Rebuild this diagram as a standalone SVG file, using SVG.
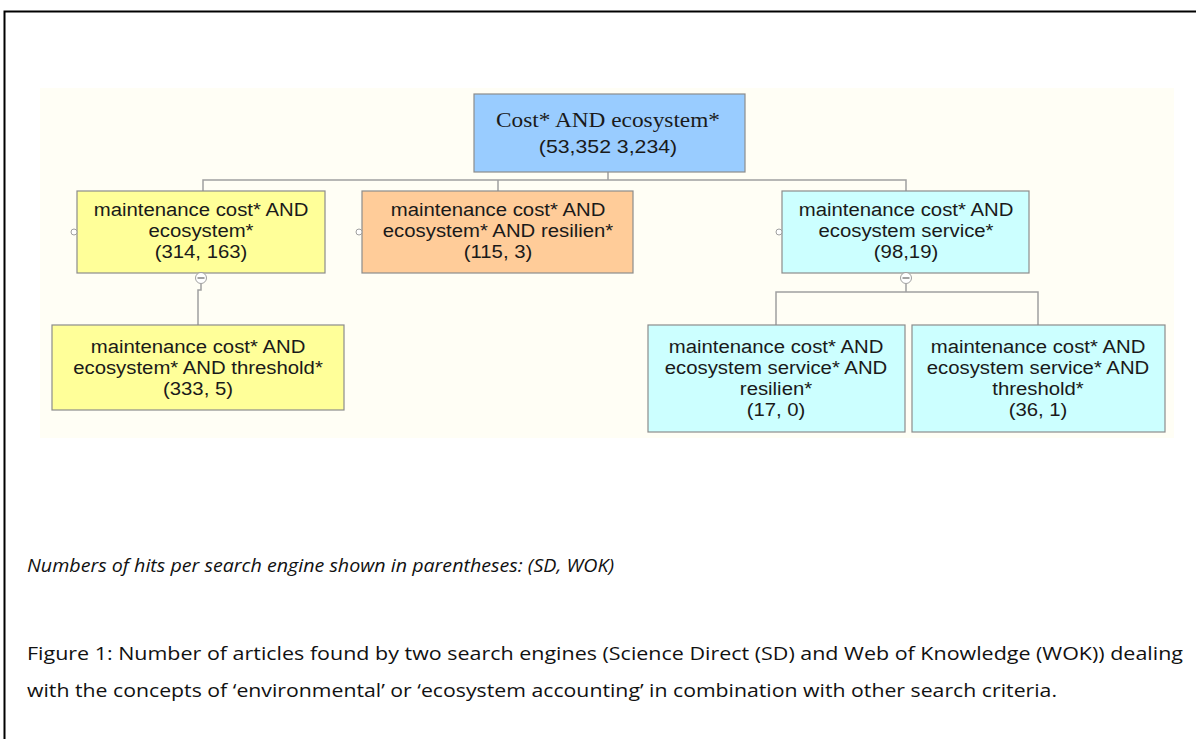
<svg xmlns="http://www.w3.org/2000/svg" width="1196" height="739" viewBox="0 0 1196 739">
<style>
.box{stroke:#8c8c8c;stroke-width:1.2}
.root{fill:#99ccff}
.yel{fill:#ffff99}
.org{fill:#ffcc99}
.cya{fill:#ccffff}
.nt{font-family:"Liberation Sans",Arial,sans-serif;font-size:18px;fill:#1a1a1a;text-anchor:middle}
.rt{font-family:"Liberation Serif","Times New Roman",serif;font-size:22px;fill:#1a1a1a;text-anchor:middle}
.conn{fill:none;stroke:#a0a0a0;stroke-width:1.5}
.port{fill:#ffffff;stroke:#a0a0a0;stroke-width:1}
.cap{font-family:"Open Sans","Noto Sans",sans-serif;font-size:19px;fill:#111}
</style>
<rect x="0" y="0" width="1196" height="739" fill="#ffffff"/>
<path d="M4.5,739 V11.5 H1196" fill="none" stroke="#000" stroke-width="2"/>
<rect x="40" y="88" width="1134" height="350" fill="#fffef5"/>

<g id="connectors">
<path class="conn" d="M608,172 V180 M203,191 V180 H906 V191 M498,180 V191"/>
<path class="conn" d="M201,284 V290 H198 V325"/>
<path class="conn" d="M906,284 V292 M776,325 V292 H1038 V325"/>
</g>

<g id="root">
<rect class="box root" x="474" y="94" width="271" height="78"/>
<g transform="translate(608,0) scale(1.06,1)"><text class="rt" x="0" y="127">Cost* AND ecosystem*</text></g>
<g transform="translate(608,0) scale(1.12,1)"><text class="nt" style="font-size:19px" x="0" y="153">(53,352 3,234)</text></g>
</g>

<g id="n1">
<rect class="box yel" x="77" y="191" width="248" height="82"/>
<circle class="port" cx="74" cy="232" r="3"/>
<g transform="translate(201,0) scale(1.13,1)">
<text class="nt" x="0" y="216">maintenance cost* AND</text>
<text class="nt" x="0" y="237">ecosystem*</text>
<text class="nt" x="0" y="258">(314, 163)</text>
</g>
<circle class="port" cx="201" cy="278" r="5.5"/>
<line x1="197.5" y1="278" x2="204.5" y2="278" stroke="#666" stroke-width="1.2"/>
</g>

<g id="n2">
<rect class="box org" x="362" y="191" width="271" height="82"/>
<circle class="port" cx="359" cy="232" r="3"/>
<g transform="translate(498,0) scale(1.13,1)">
<text class="nt" x="0" y="216">maintenance cost* AND</text>
<text class="nt" x="0" y="237">ecosystem* AND resilien*</text>
<text class="nt" x="0" y="258">(115, 3)</text>
</g>
</g>

<g id="n3">
<rect class="box cya" x="782" y="191" width="247" height="82"/>
<circle class="port" cx="779" cy="232" r="3"/>
<g transform="translate(906,0) scale(1.13,1)">
<text class="nt" x="0" y="216">maintenance cost* AND</text>
<text class="nt" x="0" y="237">ecosystem service*</text>
<text class="nt" x="0" y="258">(98,19)</text>
</g>
<circle class="port" cx="906" cy="278" r="5.5"/>
<line x1="902.5" y1="278" x2="909.5" y2="278" stroke="#666" stroke-width="1.2"/>
</g>

<g id="n4">
<rect class="box yel" x="52" y="325" width="292" height="85"/>
<g transform="translate(198,0) scale(1.13,1)">
<text class="nt" x="0" y="353">maintenance cost* AND</text>
<text class="nt" x="0" y="374">ecosystem* AND threshold*</text>
<text class="nt" x="0" y="395">(333, 5)</text>
</g>
</g>

<g id="n5">
<rect class="box cya" x="648" y="325" width="257" height="107"/>
<g transform="translate(776,0) scale(1.13,1)">
<text class="nt" x="0" y="353">maintenance cost* AND</text>
<text class="nt" x="0" y="374">ecosystem service* AND</text>
<text class="nt" x="0" y="395">resilien*</text>
<text class="nt" x="0" y="416">(17, 0)</text>
</g>
</g>

<g id="n6">
<rect class="box cya" x="912" y="325" width="253" height="107"/>
<g transform="translate(1038,0) scale(1.13,1)">
<text class="nt" x="0" y="353">maintenance cost* AND</text>
<text class="nt" x="0" y="374">ecosystem service* AND</text>
<text class="nt" x="0" y="395">threshold*</text>
<text class="nt" x="0" y="416">(36, 1)</text>
</g>
</g>

<g id="captions">
<text class="cap" x="27" y="572" font-style="italic" font-size="18" textLength="587" lengthAdjust="spacingAndGlyphs">Numbers of hits per search engine shown in parentheses: (SD, WOK)</text>
<text class="cap" x="27" y="660" textLength="1156" lengthAdjust="spacingAndGlyphs">Figure 1: Number of articles found by two search engines (Science Direct (SD) and Web of Knowledge (WOK)) dealing</text>
<text class="cap" x="27" y="697" textLength="1030" lengthAdjust="spacingAndGlyphs">with the concepts of ‘environmental’ or ‘ecosystem accounting’ in combination with other search criteria.</text>
</g>
</svg>
